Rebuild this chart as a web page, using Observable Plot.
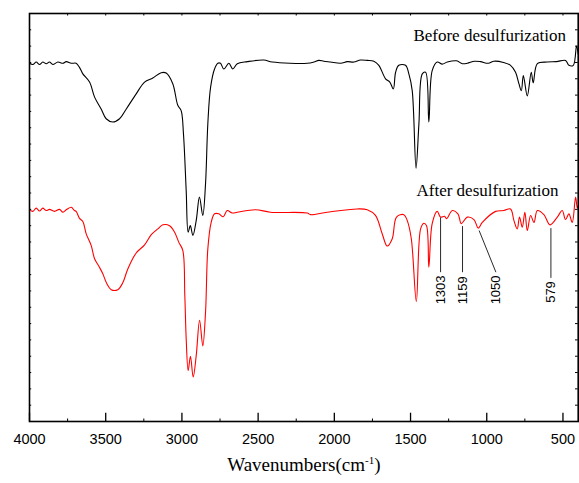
<!DOCTYPE html>
<html><head><meta charset="utf-8">
<script src="https://cdn.jsdelivr.net/npm/d3@7"></script>
<script src="https://cdn.jsdelivr.net/npm/@observablehq/plot@0.6"></script>
<style>html,body{margin:0;padding:0;background:#fff;} #chart svg{display:block}</style>
</head><body><div id="chart"></div>
<script>
// FTIR spectra: [wavenumber (cm-1), transmittance (a.u.)]
const before = [[4000,87.8],[3978,87.5],[3956,88.1],[3934,87.5],[3913,88.1],[3890,87.7],[3869,88.1],[3847,87.5],[3814,88.1],[3781,87.8],[3759,88.2],[3726,87.8],[3694,87.8],
[3672,86.8],[3650,85.2],[3606,83.2],[3573,79.5],[3530,76.6],[3497,74.2],[3453,73.4],[3409,74.2],[3365,76.6],[3300,80.3],[3245,83.2],[3191,84.2],[3136,85.5],[3103,85.4],[3060,82.8],[3027,77.5],[3005,76.2],[2990,70.6],[2972,56.6],[2959,46.4],[2945,48.0],[2928,45.6],[2906,49.3],[2885,55.0],[2863,50.5],[2845,58.3],[2830,73.0],[2812,81.9],[2786,86.4],[2764,87.8],
[2747,87.8],[2725,86.4],[2692,87.8],[2666,86.4],[2637,87.7],[2571,88.2],[2463,88.6],[2407,88.1],[2178,87.8],[2134,88.1],[2102,88.5],[2069,88.3],[2025,88.1],[1959,87.8],[1915,88.2],[1872,88.1],[1828,88.6],[1784,88.5],[1741,88.3],[1708,87.3],[1664,84.0],[1636,83.2],[1613,81.5],[1598,85.6],[1577,87.3],[1533,87.3],[1511,85.2],[1489,81.1],[1464,62.1],[1445,73.0],[1423,85.2],[1401,85.6],[1380,73.4],[1358,86.0],[1325,88.1],[1292,87.6],[1259,88.1],[1198,88.4],[1160,87.7],[1128,87.8],[1080,88.3],[1041,88.2],[990,87.8],[953,88.3],[890,88.0],[844,87.3],[811,85.6],[789,82.8],[773,81.1],[760,84.8],[734,79.8],[708,85.6],[695,83.0],[668,87.7],[603,88.1],[542,88.2],[483,88.5],[461,87.3],[432,87.3],[411,92.0],[400,90.0]];

const after = [[4000,52.0],[3978,51.5],[3956,52.3],[3934,51.6],[3913,52.3],[3890,51.7],[3869,52.0],[3836,51.5],[3803,52.0],[3781,51.3],[3755,52.0],[3726,52.5],[3705,51.7],
[3694,51.5],[3672,49.8],[3650,49.0],[3628,46.0],[3595,43.1],[3573,39.9],[3541,37.8],[3519,36.2],[3493,33.8],[3464,32.3],[3421,32.3],[3388,34.0],[3355,37.4],[3300,41.3],[3245,43.3],[3201,45.8],[3158,47.2],[3125,48.2],[3081,48.0],[3048,46.4],[3020,43.9],[2994,41.9],[2981,30.9],[2972,20.3],[2959,12.5],[2944,16.0],[2926,10.9],[2906,16.2],[2884,24.8],[2863,18.5],[2845,26.8],[2830,42.3],[2808,48.8],[2786,50.9],[2758,50.9],[2729,50.2],[2703,51.7],[2670,51.1],[2637,51.3],[2517,51.9],[2419,51.3],[2178,51.1],[2156,50.7],[2047,51.3],[1850,52.1],[1784,51.9],[1730,50.5],[1686,46.0],[1653,43.0],[1620,44.8],[1592,50.1],[1544,50.7],[1522,49.3],[1495,44.8],[1462,29.4],[1434,47.2],[1413,48.6],[1395,48.0],[1380,37.8],[1358,48.5],[1325,51.5],[1303,50.1],[1277,50.3],[1264,49.7],[1226,51.7],[1189,50.9],[1167,48.5],[1128,50.1],[1084,49.5],[1056,47.4],[1029,48.8],[942,51.5],[888,51.7],[844,52.1],[822,49.3],[800,47.2],[785,50.1],[767,47.6],[750,51.3],[734,46.8],[712,50.5],[690,48.8],[668,51.7],[625,50.7],[585,48.2],[537,50.1],[505,51.7],[483,49.5],[461,50.9],[439,48.8],[417,55.0],[406,52.3],[400,52.9]];

const majorTicks = [4000,3500,3000,2500,2000,1500,1000,500];
const minorTicks = [3750,3250,2750,2250,1750,1250,750];
const yTicks = d3.range(0, 101, 4);

const seriesLabels = [
  {text: "Before desulfurization", wn: 981, t: 93.2},
  {text: "After desulfurization", wn: 995, t: 55.3}
];
const peaks = [
  {label: "1303", wn: 1303, wnLabel: 1303, yPeak: 50.0, yEnd: 36.6, yLabel: 35.8},
  {label: "1159", wn: 1159, wnLabel: 1159, yPeak: 47.9, yEnd: 36.6, yLabel: 35.6},
  {label: "1050", wn: 1050, wnLabel: 940, yPeak: 46.8, yEnd: 36.6, yLabel: 35.8},
  {label: "579", wn: 579, wnLabel: 579, yPeak: 47.4, yEnd: 35.2, yLabel: 34.4}
];
const xTitle = "Wavenumbers(cm";

const W = 579, H = 483, mL = 29, mR = 1.3, mT = 13, mB = 62;
const fw = W - mL - mR, fh = H - mT - mB;
const serif = "'Liberation Serif', 'Times New Roman', serif";
const sans = "'Liberation Sans', Arial, sans-serif";

const plot = Plot.plot({
  width: W, height: H,
  marginLeft: mL, marginRight: mR, marginTop: mT, marginBottom: mB,
  style: {fontFamily: sans, fontSize: "14.5px", background: "#fff", color: "#000", overflow: "visible"},
  x: {domain: [4000, 400]},
  y: {domain: [0, 100], axis: null},
  marks: [
    Plot.line(before, {x: d => d[0], y: d => d[1], stroke: "#000", strokeWidth: 1.1, curve: "catmull-rom"}),
    Plot.line(after, {x: d => d[0], y: d => d[1], stroke: "#ff0000", strokeWidth: 1.1, curve: "catmull-rom"}),
    Plot.link(peaks, {x1: "wn", y1: "yPeak", x2: "wnLabel", y2: "yEnd", stroke: "#111", strokeWidth: 0.9}),
    Plot.text(peaks, {x: "wnLabel", y: "yLabel", text: "label", rotate: -90, textAnchor: "end", lineAnchor: "middle", fontSize: 13, fontFamily: sans, fill: "#000"}),
    Plot.text(seriesLabels, {x: "wn", y: "t", text: "text", textAnchor: "middle", lineAnchor: "bottom", fontFamily: serif, fontSize: 17, fill: "#000"}),
    Plot.tickX(majorTicks, {x: d => d, insetTop: fh - 8.3, stroke: "#000", strokeWidth: 1.3}),
    Plot.tickX(minorTicks, {x: d => d, insetTop: fh - 2.5, stroke: "#000", strokeWidth: 1}),
    Plot.tickX([...majorTicks, ...minorTicks], {x: d => d, insetBottom: fh - 2.5, stroke: "#000", strokeWidth: 1}),
    Plot.tickY(yTicks, {y: d => d, insetRight: fw - 2.2, stroke: "#000", strokeWidth: 1}),
    Plot.tickY(yTicks, {y: d => d, insetLeft: fw - 2.7, stroke: "#000", strokeWidth: 1}),
    Plot.axisX({ticks: majorTicks, tickSize: 0, tickPadding: 12, tickFormat: d => String(d), fontSize: 14.5, label: null}),
    Plot.text([xTitle], {text: d => d, frameAnchor: "bottom", dy: 49.5, lineAnchor: "bottom", textAnchor: "middle", fontFamily: serif, fontSize: 19, fill: "#000"}),
    Plot.frame({stroke: "#000", strokeWidth: 1.6})
  ]
});
document.getElementById("chart").appendChild(plot);

// superscript in the x title
const t = Array.from(plot.querySelectorAll("text")).find(el => el.textContent === xTitle);
if (t) {
  t.textContent = "";
  const ns = "http://www.w3.org/2000/svg";
  const a = document.createElementNS(ns, "tspan"); a.textContent = xTitle;
  const b = document.createElementNS(ns, "tspan"); b.textContent = "-1";
  b.setAttribute("dy", "-7"); b.setAttribute("font-size", "11");
  const c = document.createElementNS(ns, "tspan"); c.textContent = ")";
  c.setAttribute("dy", "7");
  t.append(a, b, c);
}
</script>
</body></html>
